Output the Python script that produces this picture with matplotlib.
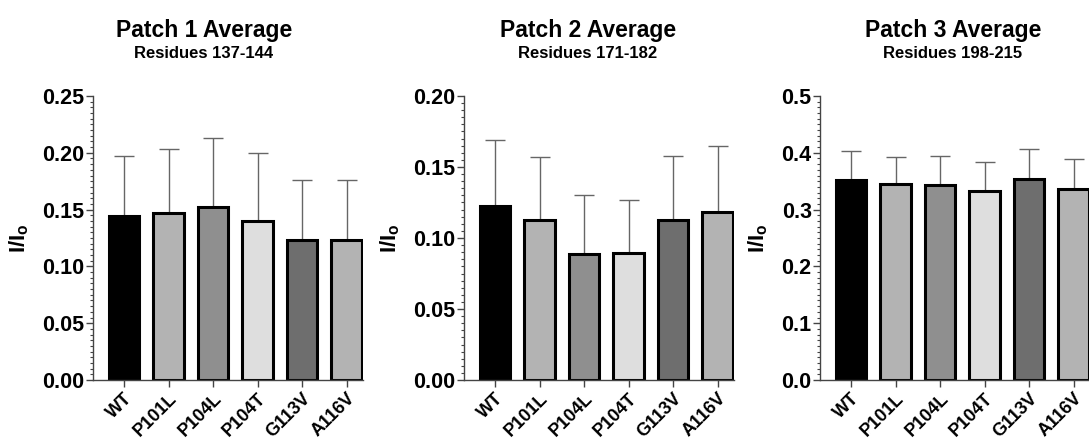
import matplotlib
matplotlib.use("Agg")
import matplotlib.pyplot as plt
from matplotlib.ticker import AutoMinorLocator, MultipleLocator, FormatStrFormatter

plt.rcParams["font.family"] = ["Liberation Sans", "DejaVu Sans"]
plt.rcParams["font.weight"] = "bold"

# --- data --------------------------------------------------------------------
mutants = ["WT", "P101L", "P104L", "P104T", "G113V", "A116V"]
bar_colors = ["#000000", "#b3b3b3", "#8f8f8f", "#dedede", "#6e6e6e", "#b3b3b3"]

titles = ["Patch 1 Average", "Patch 2 Average", "Patch 3 Average"]
subtitles = ["Residues 137-144", "Residues 171-182", "Residues 198-215"]

patch1_mean = [0.144, 0.147, 0.152, 0.140, 0.123, 0.123]
patch1_sd = [0.053, 0.056, 0.061, 0.060, 0.053, 0.053]
patch2_mean = [0.1225, 0.1125, 0.0887, 0.0897, 0.1125, 0.1186]
patch2_sd = [0.0465, 0.0445, 0.0413, 0.0373, 0.0455, 0.0464]
patch3_mean = [0.352, 0.345, 0.343, 0.333, 0.353, 0.336]
patch3_sd = [0.051, 0.048, 0.052, 0.051, 0.053, 0.053]

ymax = [0.25, 0.20, 0.5]
ystep = [0.05, 0.05, 0.1]
yfmt = ["%.2f", "%.2f", "%.1f"]

means = [patch1_mean, patch2_mean, patch3_mean]
sds = [patch1_sd, patch2_sd, patch3_sd]

# --- layout (pixel positions measured on the 1089x442 reference) -------------
W, H = 1089, 442
fig = plt.figure(figsize=(W / 100, H / 100), dpi=100)
lefts = [93, 464, 820]
title_x = [204, 588, 953]

for i in range(3):
    ax = fig.add_axes([lefts[i] / W, (H - 380) / H, 270 / W, 284 / H])
    x = range(len(mutants))
    ax.bar(x, means[i], width=0.68, color=bar_colors, edgecolor="black",
           linewidth=2.2, zorder=2)
    ax.errorbar(x, means[i], yerr=[[0] * len(sds[i]), sds[i]], fmt="none",
                ecolor="#666666", elinewidth=1, capsize=7, capthick=1, zorder=1)

    ax.set_xlim(-0.7, 5.37)
    ax.set_ylim(0, ymax[i])
    ax.yaxis.set_major_locator(MultipleLocator(ystep[i]))
    ax.yaxis.set_minor_locator(AutoMinorLocator(10))
    ax.yaxis.set_major_formatter(FormatStrFormatter(yfmt[i]))
    ax.set_xticks(list(x))
    ax.set_xticklabels(mutants, rotation=45, ha="right", rotation_mode="anchor",
                       fontsize=13, fontweight="bold")
    for sp in ("top", "right"):
        ax.spines[sp].set_visible(False)
    for sp in ("left", "bottom"):
        ax.spines[sp].set_color("#444444")
        ax.spines[sp].set_linewidth(1)
    ax.tick_params(axis="y", which="major", length=5, width=1, color="#444444",
                   labelsize=15.5, pad=1)
    ax.tick_params(axis="y", which="minor", length=2, width=0.8, color="#444444")
    ax.tick_params(axis="x", length=5, width=1, color="#444444", pad=2)
    for lab in ax.get_yticklabels():
        lab.set_fontweight("bold")
    ax.set_ylabel(r"I/I$_\mathregular{o}$", fontsize=16, fontweight="bold", labelpad=8)

    fig.text(title_x[i] / W, 1 - 30 / H, titles[i], ha="center", va="center",
             fontsize=16.5, fontweight="bold")
    fig.text(title_x[i] / W, 1 - 53 / H, subtitles[i], ha="center", va="center",
             fontsize=12, fontweight="bold")

fig.savefig("out.png", dpi=100)
